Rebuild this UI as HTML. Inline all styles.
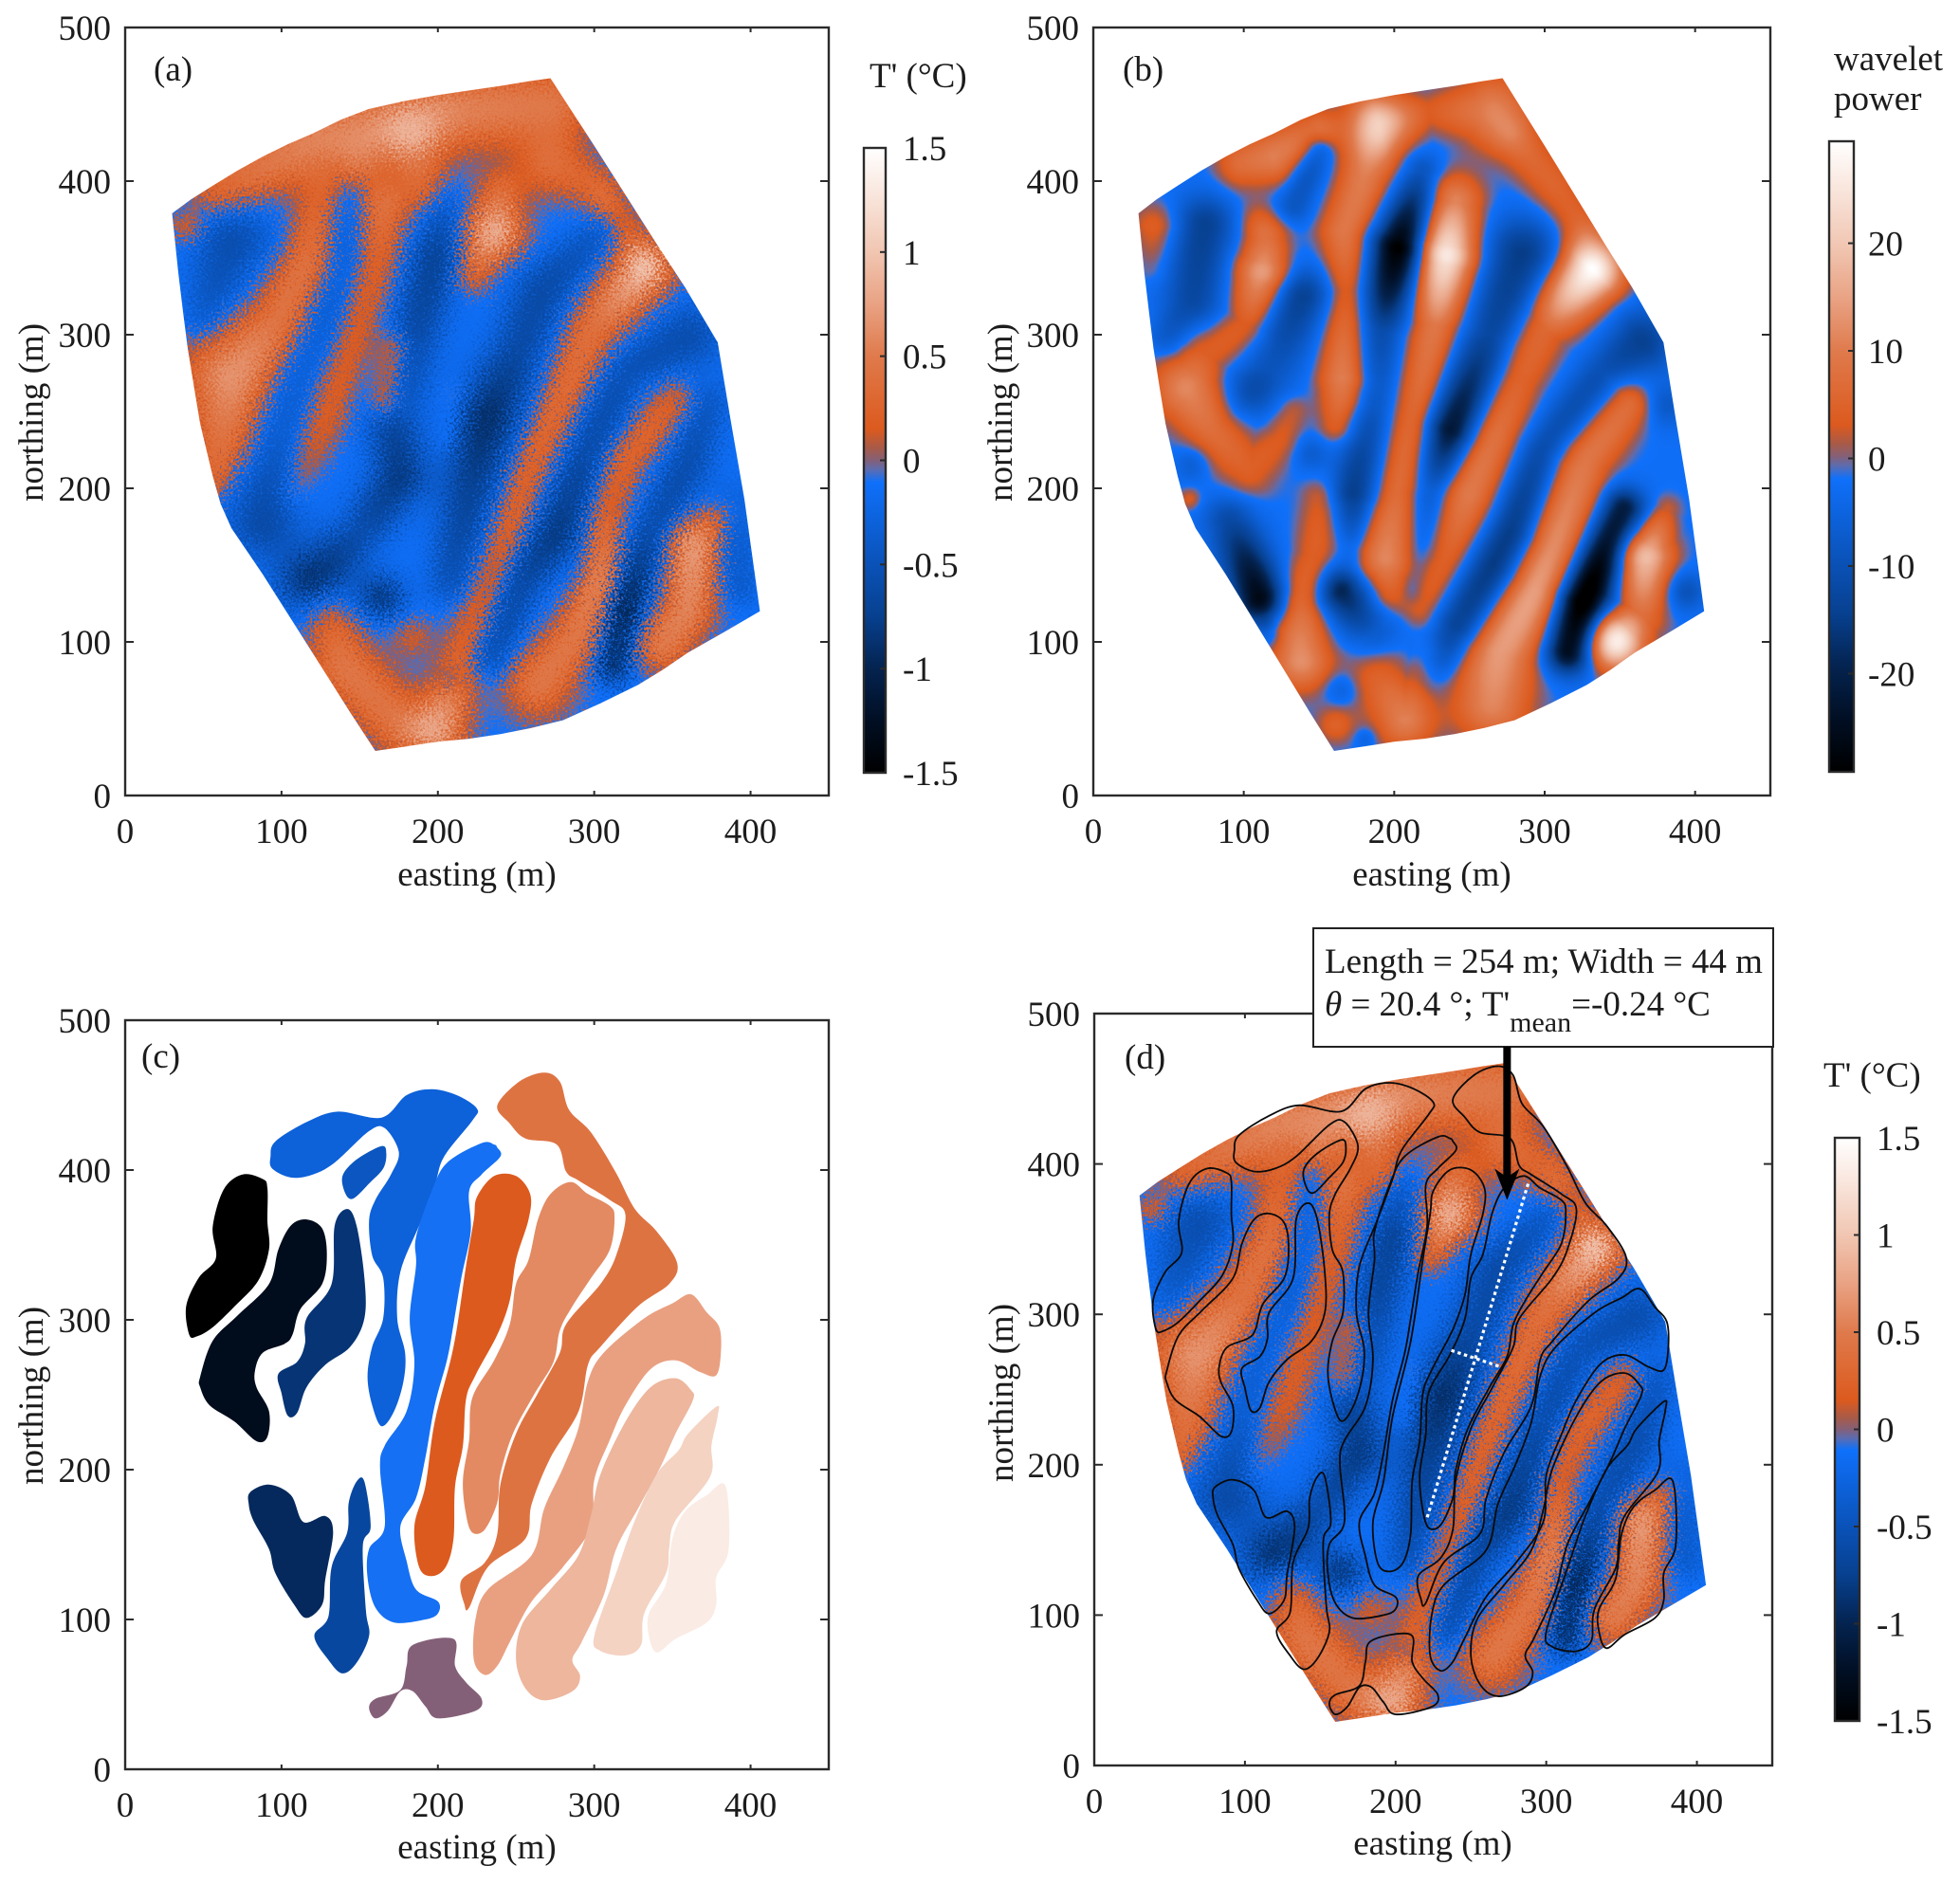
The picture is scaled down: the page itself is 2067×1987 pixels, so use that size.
<!DOCTYPE html>
<html lang="en">
<head>
<meta charset="utf-8">
<title>Thermal streak maps</title>
<style>
html,body{margin:0;padding:0;background:#fff}
#figure{position:relative;width:2067px;height:1987px;background:#fff;overflow:hidden;font-family:"Liberation Serif",serif}
.map-wrap{position:absolute;overflow:hidden}
.map-wrap canvas{display:block;width:100%;height:100%}
.speckled canvas{filter:url(#speckle)}
#overlay{position:absolute;left:0;top:0}
#overlay text{font-family:"Liberation Serif",serif;font-size:37px;fill:#1c1c1c}
</style>
</head>
<body>
<div id="figure">
  <svg width="0" height="0" style="position:absolute">
    <filter id="speckle" x="0" y="0" width="1" height="1" color-interpolation-filters="sRGB">
      <feTurbulence type="fractalNoise" baseFrequency="0.42" numOctaves="2" seed="7" result="n"/>
      <feDisplacementMap in="SourceGraphic" in2="n" scale="60" xChannelSelector="R" yChannelSelector="G"/>
    </filter>
  </svg>
  <div class="map-wrap speckled" id="wrap-a"><canvas id="canvas-a" width="450" height="500"></canvas></div>
  <div class="map-wrap" id="wrap-b"><canvas id="canvas-b" width="450" height="500"></canvas></div>
  <div class="map-wrap speckled" id="wrap-d"><canvas id="canvas-d" width="450" height="500"></canvas></div>
  <svg id="overlay" width="2067" height="1987" xmlns="http://www.w3.org/2000/svg">
    <defs id="defs"></defs>
    <g id="layer"></g>
    <text x="162" y="85">(a)</text>
    <text x="1184" y="85">(b)</text>
    <text x="149" y="1126">(c)</text>
    <text x="1186" y="1127">(d)</text>

    <text x="503" y="934" text-anchor="middle">easting (m)</text>
    <text x="1510" y="934" text-anchor="middle">easting (m)</text>
    <text x="503" y="1960" text-anchor="middle">easting (m)</text>
    <text x="1511" y="1956" text-anchor="middle">easting (m)</text>
    <text transform="translate(45,435) rotate(-90)" text-anchor="middle">northing (m)</text>
    <text transform="translate(1067,435) rotate(-90)" text-anchor="middle">northing (m)</text>
    <text transform="translate(45,1472) rotate(-90)" text-anchor="middle">northing (m)</text>
    <text transform="translate(1068,1469) rotate(-90)" text-anchor="middle">northing (m)</text>

    <text x="917" y="92">T' (°C)</text>
    <text x="1934" y="74">wavelet</text>
    <text x="1934" y="116">power</text>
    <text x="1923" y="1146">T' (°C)</text>

    <g id="annotation">
      <rect x="1385" y="979" width="485" height="125" fill="#fff" stroke="#222" stroke-width="2"/>
      <text x="1397" y="1026">Length = 254 m; Width = 44 m</text>
      <text x="1397" y="1071"><tspan font-style="italic">θ</tspan> = 20.4 °; T'<tspan dy="17" style="font-size:30px">mean</tspan><tspan dy="-17">=-0.24 °C</tspan></text>
    </g>
  </svg>
</div>
<script>
/* ---------- chart data (metres / degC / wavelet power) ---------- */
const eastingTicks = [0, 100, 200, 300, 400];
const northingTicks = [0, 100, 200, 300, 400, 500];
const temperatureBarTicks = [1.5, 1, 0.5, 0, -0.5, -1, -1.5];
const waveletBarTicks = [20, 10, 0, -10, -20];
const temperatureLimit = 1.5;
const waveletLimit = 29.3;
const temperatureBackground = -0.12;
const waveletBackground = -2.5;

/* survey footprint: [easting, northing] */
const siteBoundary = [[30,379],[42,388],[56,397],[72,407],[88,416],[104,424],[120,431],[138,440],[156,447],[178,452],[200,456],[220,459],[240,462],[258,465],[272,467],[300,423],[340,359],[358,331],[379,295],[387,246],[396,193],[406,120],[384,107],[360,93],[344,82],[328,72],[304,60],[280,49],[260,44],[240,40],[220,37],[200,35],[180,32],[160,29],[144,54],[116,99],[88,144],[68,174],[61,190],[56,208],[52,225],[48,242],[44,266],[40,291],[37,315],[34,340]];

/* wavelet field features: polylines of [easting, northing, width, power] */
const waveletRidges = [
 [[41,370,11,7],[40,345,8,3]],
 [[99,412,12,10],[120,416,13,13],[149,432,10,11]],
 [[190,437,16,15],[223,445,10,6],[265,446,17,13]],
 [[190,437,12,9],[178,397,12,12],[167,367,12,12],[169,329,10,8],[167,272,12,14],[163,242,9,8]],
 [[281,427,11,8],[306,397,12,8],[325,370,10,7]],
 [[115,363,11,10],[113,340,13,18],[103,306,11,8],[74,288,13,7],[62,265,16,14],[78,239,13,10],[103,212,13,7],[124,231,10,6],[132,250,8,5]],
 [[108,377,9,3]],
 [[240,386,13,14],[233,352,14,30],[227,306,12,12],[215,254,11,10],[202,197,11,10],[194,155,14,14],[196,133,10,8]],
 [[331,342,14,32],[298,306,13,10],[281,272,13,9],[265,235,13,12],[248,197,14,13],[236,159,12,8],[219,121,9,6]],
 [[356,254,11,10],[327,220,13,12],[314,186,14,14],[294,133,15,18],[269,95,18,17],[265,61,18,14]],
 [[381,186,7,5],[366,155,13,22],[364,118,12,10],[347,101,13,30]],
 [[151,193,9,6],[147,155,10,7],[136,125,12,11],[138,88,14,15]],
 [[190,76,15,8],[207,50,14,13],[223,91,8,4]],
 [[161,46,9,7]],
 [[64,193,5,6]]
];
const waveletTroughs = [
 [[74,371,14,-12],[66,322,14,-10],[49,298,9,-6]],
 [[149,420,8,-9],[133,384,9,-7]],
 [[137,325,14,-13],[116,276,15,-6]],
 [[219,405,9,-8],[204,356,13,-30],[190,303,12,-10],[186,254,11,-7],[173,197,11,-13],[173,159,7,-4]],
 [[285,352,17,-13],[265,299,14,-11],[238,238,12,-22],[225,197,10,-8],[218,159,8,-5],[212,132,5,-3]],
 [[364,295,15,-12],[339,276,11,-8],[298,223,11,-10],[279,171,12,-15],[244,110,12,-15],[223,76,9,-5]],
 [[352,186,10,-20],[325,125,12,-32],[316,95,11,-25]],
 [[393,133,9,-8]],
 [[380,254,10,-6]],
 [[91,178,12,-10],[111,129,12,-25],[116,106,7,-6]],
 [[165,133,11,-18],[186,106,13,-6]],
 [[165,69,8,-5]],
 [[66,216,8,-5]],
 [[144,223,8,-5]],
 [[103,261,11,-6]],
 [[181,37,5,-4]]
];

/* temperature anomaly features: polylines of [easting, northing, width, degC] */
const thermalFeatures = [
 [[60,395,12,0.5],[120,426,16,0.7],[200,445,18,0.7],[272,450,18,0.6]],
 [[150,410,10,0.3]],
 [[184,425,14,0.45],[190,397,10,0.4]],
 [[240,392,10,0.5],[236,367,12,1.0],[222,340,8,0.45]],
 [[272,410,14,0.45],[300,398,9,0.4]],
 [[310,385,8,0.4],[332,350,8,0.2]],
 [[125,395,9,0.3],[120,348,12,0.75],[100,306,15,0.65],[68,272,20,0.8],[62,231,14,0.55],[56,204,7,0.45]],
 [[165,385,11,0.55],[160,348,10,0.45],[144,291,9,0.35],[128,246,9,0.35],[108,197,6,0.2]],
 [[172,291,7,0.55],[166,257,7,0.65]],
 [[210,262,5,0.2],[205,230,4,0.2]],
 [[332,342,12,1.0],[300,306,12,0.55],[280,261,9,0.5],[256,205,8,0.45],[236,144,8,0.45],[216,91,9,0.5],[200,42,12,0.8]],
 [[352,257,9,0.4],[320,220,9,0.45],[308,190,8,0.4],[304,140,7,0.75],[288,103,11,0.6],[264,72,14,0.6]],
 [[384,186,7,0.3],[364,163,11,0.85],[360,121,11,0.7],[344,99,12,0.65]],
 [[128,122,10,0.4],[140,84,14,0.6],[176,46,14,0.55]],
 [[184,103,8,0.3]],
 [[40,370,7,0.4]],
 [[68,361,18,-0.45],[50,310,9,-0.3]],
 [[146,392,7,-0.2],[136,348,13,-0.45],[125,314,13,-0.45],[108,276,12,-0.35],[96,231,12,-0.3],[88,178,16,-0.5]],
 [[205,385,8,-0.3],[198,350,12,-0.6],[185,300,12,-0.5],[170,250,12,-0.5],[176,208,12,-0.7],[150,170,11,-0.45],[120,140,15,-0.8]],
 [[164,129,10,-0.7]],
 [[304,367,8,-0.3],[268,329,14,-0.5],[252,291,13,-0.5],[232,246,15,-0.8],[220,197,13,-0.6],[208,140,10,-0.4]],
 [[360,299,15,-0.45],[320,276,11,-0.4],[296,223,11,-0.5],[276,171,12,-0.7],[252,140,11,-0.55],[232,91,10,-0.5]],
 [[372,255,10,-0.35],[360,216,11,-0.45],[336,171,9,-0.5],[320,121,9,-0.9],[312,84,8,-0.8]],
 [[388,190,9,-0.3],[393,135,8,-0.3]],
 [[208,76,5,-0.5]]
];

/* streak outlines: [easting, northing] */
const streakOutlines = [
 [[41,290],[39,309],[47,328],[58,341],[56,362],[63,387],[75,397],[88,394],[91,388],[91,366],[92,347],[85,326],[70,309],[56,295],[46,289]],
 [[48,262],[56,286],[72,303],[92,324],[98,347],[106,363],[116,367],[126,361],[129,344],[126,324],[112,307],[107,290],[102,284],[88,278],[83,266],[84,255],[92,239],[91,222],[84,219],[70,232],[54,243],[48,255]],
 [[98,264],[110,272],[115,284],[116,301],[132,324],[134,363],[142,374],[148,363],[153,328],[153,301],[144,282],[128,270],[116,255],[110,238],[104,236],[100,251]],
 [[139,396],[148,407],[164,416],[167,411],[165,401],[156,391],[146,381],[141,384]],
 [[93,409],[96,419],[116,432],[136,439],[164,435],[180,450],[196,454],[212,450],[225,441],[222,433],[204,409],[198,390],[188,363],[176,332],[174,301],[179,278],[178,259],[172,239],[164,229],[158,243],[155,262],[158,282],[165,301],[165,328],[158,343],[156,366],[160,380],[170,397],[175,412],[166,428],[156,426],[134,405],[120,397],[106,395],[94,401]],
 [[238,415],[240,409],[228,397],[220,386],[221,359],[215,328],[210,297],[206,274],[198,243],[192,208],[186,181],[176,162],[180,139],[186,120],[200,112],[200,104],[192,100],[172,98],[160,108],[155,128],[156,147],[166,162],[163,201],[166,216],[180,239],[185,270],[182,301],[186,336],[186,355],[196,386],[206,405],[228,418],[236,417]],
 [[225,382],[236,396],[250,396],[259,384],[258,367],[250,340],[246,313],[238,290],[224,263],[218,247],[216,216],[211,189],[210,154],[205,135],[196,129],[188,135],[185,162],[192,189],[198,232],[210,282],[218,336],[223,367]],
 [[264,367],[272,384],[285,392],[296,384],[310,376],[313,368],[310,347],[298,328],[286,309],[278,293],[274,272],[262,251],[248,224],[240,197],[238,178],[230,160],[222,158],[218,170],[216,193],[220,220],[222,248],[236,273],[246,297],[250,324],[258,340]],
 [[238,443],[252,459],[268,465],[278,459],[284,440],[298,425],[314,398],[326,374],[340,359],[353,338],[348,324],[328,309],[304,282],[296,270],[290,239],[272,208],[260,177],[256,154],[232,135],[220,108],[217,110],[215,126],[230,138],[238,157],[240,190],[250,224],[264,251],[278,278],[282,297],[304,324],[314,343],[320,370],[310,380],[290,393],[282,399],[276,417],[256,421],[246,431]],
 [[362,317],[372,305],[380,295],[381,278],[378,263],[368,265],[352,273],[336,267],[320,243],[310,220],[300,193],[298,162],[280,135],[260,112],[246,85],[238,69],[230,63],[223,73],[224,100],[232,120],[260,143],[268,174],[280,201],[290,228],[296,259],[306,278],[332,301],[350,311]],
 [[352,261],[362,253],[363,246],[352,224],[342,201],[328,174],[314,147],[306,116],[292,85],[286,73],[291,62],[286,52],[268,46],[256,54],[250,73],[254,97],[272,120],[290,143],[298,170],[304,197],[320,232],[336,255]],
 [[378,242],[360,224],[354,213],[340,197],[326,166],[314,131],[300,89],[304,79],[320,76],[330,83],[332,104],[346,131],[348,148],[352,166],[374,195],[375,216],[379,236]],
 [[384,189],[386,147],[378,128],[378,110],[372,98],[352,87],[340,78],[335,89],[335,104],[346,124],[350,154],[358,172],[372,183]],
 [[80,185],[92,190],[106,183],[114,165],[128,169],[133,158],[128,127],[126,110],[116,101],[108,110],[96,131],[92,147],[82,166],[79,177]],
 [[148,192],[153,192],[157,162],[152,149],[154,106],[156,89],[148,71],[139,64],[130,73],[121,89],[130,102],[132,135],[142,158],[143,178]],
 [[184,83],[210,87],[211,69],[218,58],[228,47],[224,39],[200,34],[192,42],[184,52],[176,52],[168,39],[160,34],[156,41],[160,47],[176,53],[180,69]]
];
/* mean T' of each streak, degC */
const streakMeans = [-1.5,-1.3,-0.85,-0.45,-0.3,-0.1,0.15,0.6,0.42,0.74,0.89,1.11,1.32,-0.95,-0.65,0];

/* measured streak axes: [easting, northing] */
const streakLengthAxis = [[221,165],[288,387]];
const streakWidthAxis = [[237,276],[270,265]];
const arrowEnds = [[274,478],[274,376]];

/* ---------- colour scale ---------- */
const cmapPositions = [-1,-0.83,-0.667,-0.5,-0.333,-0.07,-0.03,0,0.04,0.1,0.333,0.5,0.667,0.85,1];
const cmapColors = [[0,0,0],[1,15,36],[4,35,79],[7,64,143],[10,82,184],[15,112,250],[92,108,176],[132,96,120],[168,90,72],[220,90,30],[223,122,76],[233,162,131],[241,198,178],[249,230,221],[255,255,255]];
function cmap(t){
  if(t<=cmapPositions[0]) return cmapColors[0];
  for(let i=1;i<cmapPositions.length;i++){
    if(t<=cmapPositions[i]){
      const f=(t-cmapPositions[i-1])/(cmapPositions[i]-cmapPositions[i-1]);
      const a=cmapColors[i-1], b=cmapColors[i];
      return [a[0]+(b[0]-a[0])*f,a[1]+(b[1]-a[1])*f,a[2]+(b[2]-a[2])*f];
    }
  }
  return cmapColors[cmapColors.length-1];
}
function rgb(c){return 'rgb('+Math.round(c[0])+','+Math.round(c[1])+','+Math.round(c[2])+')';}

/* ---------- axes ---------- */
const NS='http://www.w3.org/2000/svg';
const layer=document.getElementById('layer');
const defs=document.getElementById('defs');
const AXIS='#2b2b2b';
const xMax=450,yMax=500;
const boxes={
  a:{L:132,R:874,T:29,B:839},
  b:{L:1153,R:1867,T:29,B:839},
  c:{L:132,R:874,T:1076,B:1866},
  d:{L:1154,R:1869,T:1069,B:1862}
};
function xScale(box,v){return box.L+v/xMax*(box.R-box.L);}
function yScale(box,v){return box.B-v/yMax*(box.B-box.T);}
function svgEl(tag,parent){const e=document.createElementNS(NS,tag);(parent||layer).appendChild(e);return e;}
function setLine(l,x1,y1,x2,y2,w){
  l.setAttribute('x1',x1);l.setAttribute('y1',y1);l.setAttribute('x2',x2);l.setAttribute('y2',y2);
  l.setAttribute('stroke',AXIS);l.setAttribute('stroke-width',w);
}
function drawAxes(key,box){
  const g=svgEl('g');
  
  
  const frame=svgEl('rect',g);
  
  
  frame.setAttribute('x',box.L);frame.setAttribute('y',box.T);
  frame.setAttribute('width',box.R-box.L);frame.setAttribute('height',box.B-box.T);
  frame.setAttribute('fill','none');frame.setAttribute('stroke',AXIS);frame.setAttribute('stroke-width','2.4');
  eastingTicks.forEach(v=>{
    const x=xScale(box,v);
    const b=svgEl('line',g);
    
    
    setLine(b,x,box.B,x,box.B-5,2);
    const t=svgEl('line',g);
    
    
    setLine(t,x,box.T,x,box.T+5,2);
    const lab=svgEl('text',g);
    
    
    lab.setAttribute('x',x);lab.setAttribute('y',box.B+50);lab.setAttribute('text-anchor','middle');
    lab.textContent=String(v);
  });
  northingTicks.forEach(v=>{
    const y=yScale(box,v);
    const l=svgEl('line',g);
    
    
    setLine(l,box.L,y,box.L+9,y,2);
    const r=svgEl('line',g);
    
    
    setLine(r,box.R,y,box.R-9,y,2);
    const lab=svgEl('text',g);
    
    
    lab.setAttribute('x',box.L-15);lab.setAttribute('y',y+13);lab.setAttribute('text-anchor','end');
    lab.textContent=String(v);
  });
}
function drawColorbar(key,bar,limit,ticks){
  const grad=svgEl('linearGradient',defs);
  grad.id='grad-'+key;
  grad.setAttribute('x1','0');grad.setAttribute('y1','0');grad.setAttribute('x2','0');grad.setAttribute('y2','1');
  for(let i=cmapPositions.length-1;i>=0;i--){
    const s=svgEl('stop',grad);
    s.setAttribute('offset',(1-cmapPositions[i])/2);
    s.setAttribute('stop-color',rgb(cmapColors[i]));
  }
  const g=svgEl('g');
  
  
  const r=svgEl('rect',g);
  
  
  r.setAttribute('x',bar.x0);r.setAttribute('y',bar.y0);
  r.setAttribute('width',bar.x1-bar.x0);r.setAttribute('height',bar.y1-bar.y0);
  r.setAttribute('fill','url(#grad-'+key+')');r.setAttribute('stroke',AXIS);r.setAttribute('stroke-width','2.4');
  ticks.forEach(v=>{
    const y=bar.y0+(limit-v)/(2*limit)*(bar.y1-bar.y0)+(bar.dy||0);
    const t=svgEl('line',g);
    
    
    setLine(t,bar.x1,y,bar.x1-6,y,2);
    const lab=svgEl('text',g);
    
    
    lab.setAttribute('x',bar.x1+(bar.gap||18));lab.setAttribute('y',y+13);
    lab.textContent=String(v);
  });
}

/* ---------- field rendering ---------- */
function fieldValue(features,background,x,y){
  let sum=background;
  for(let f=0;f<features.length;f++){
    const line=features[f];
    let best=0;
    for(let s=0;s<line.length;s++){
      const a=line[s], b=line[Math.min(s+1,line.length-1)];
      const dx=b[0]-a[0], dy=b[1]-a[1], len=dx*dx+dy*dy;
      let t=len>0?((x-a[0])*dx+(y-a[1])*dy)/len:0;
      t=t<0?0:t>1?1:t;
      const px=a[0]+dx*t-x, py=a[1]+dy*t-y;
      const sig=a[2]+(b[2]-a[2])*t, amp=a[3]+(b[3]-a[3])*t;
      const g=amp*Math.exp(-(px*px+py*py)/(2*sig*sig));
      if(Math.abs(g)>Math.abs(best)) best=g;
    }
    sum+=best;
  }
  return sum;
}
function renderField(features,background,limit){
  const W=xMax,H=yMax;
  const img=new ImageData(W,H);
  for(let j=0;j<H;j++){
    const y=yMax-j-0.5;
    for(let i=0;i<W;i++){
      const k=(j*W+i)*4;
      img.data[k+3]=255;
      const v=fieldValue(features,background,i+0.5,y);
      const c=cmap(v/limit);
      img.data[k]=c[0];img.data[k+1]=c[1];img.data[k+2]=c[2];
    }
  }
  return img;
}
function placeMap(key,box,img){
  const wrap=document.getElementById('wrap-'+key);
  wrap.style.left=box.L+'px';wrap.style.top=box.T+'px';
  wrap.style.width=(box.R-box.L)+'px';wrap.style.height=(box.B-box.T)+'px';
  wrap.style.clipPath='polygon('+siteBoundary.map(p=>(xScale(box,p[0])-box.L).toFixed(1)+'px '+(yScale(box,p[1])-box.T).toFixed(1)+'px').join(',')+')';
  document.getElementById('canvas-'+key).getContext('2d').putImageData(img,0,0);
}
function smoothPath(box,pts){
  const P=pts.map(p=>[xScale(box,p[0]),yScale(box,p[1])]);
  const n=P.length;
  let d='M'+P[0][0].toFixed(1)+' '+P[0][1].toFixed(1);
  for(let i=0;i<n;i++){
    const p0=P[(i-1+n)%n],p1=P[i],p2=P[(i+1)%n],p3=P[(i+2)%n];
    const c1x=p1[0]+(p2[0]-p0[0])/6,c1y=p1[1]+(p2[1]-p0[1])/6;
    const c2x=p2[0]-(p3[0]-p1[0])/6,c2y=p2[1]-(p3[1]-p1[1])/6;
    d+='C'+c1x.toFixed(1)+' '+c1y.toFixed(1)+' '+c2x.toFixed(1)+' '+c2y.toFixed(1)+' '+p2[0].toFixed(1)+' '+p2[1].toFixed(1);
  }
  return d+'Z';
}

/* ---------- draw ---------- */
const thermalImage=renderField(thermalFeatures,temperatureBackground,temperatureLimit);
const waveletImage=renderField(waveletRidges.concat(waveletTroughs),waveletBackground,waveletLimit);
placeMap('a',boxes.a,thermalImage);
placeMap('b',boxes.b,waveletImage);
placeMap('d',boxes.d,thermalImage);

streakOutlines.forEach((pts,i)=>{
  const p=svgEl('path');
  
  
  p.setAttribute('d',smoothPath(boxes.c,pts));
  p.setAttribute('fill',rgb(cmap(streakMeans[i]/temperatureLimit)));
});
streakOutlines.forEach(pts=>{
  const p=svgEl('path');
  
  
  p.setAttribute('d',smoothPath(boxes.d,pts));
  p.setAttribute('fill','none');
  p.setAttribute('stroke','#0a0a0a');
  p.setAttribute('stroke-width','1.8');
});
[streakLengthAxis,streakWidthAxis].forEach(seg=>{
  const l=svgEl('line');
  
  
  l.setAttribute('x1',xScale(boxes.d,seg[0][0]));l.setAttribute('y1',yScale(boxes.d,seg[0][1]));
  l.setAttribute('x2',xScale(boxes.d,seg[1][0]));l.setAttribute('y2',yScale(boxes.d,seg[1][1]));
  l.setAttribute('stroke','#fff');l.setAttribute('stroke-width','3.2');l.setAttribute('stroke-dasharray','3.5 3.5');
});
Object.keys(boxes).forEach(k=>drawAxes(k,boxes[k]));
drawColorbar('a',{x0:911,x1:934,y0:156,y1:815},temperatureLimit,temperatureBarTicks);
drawColorbar('b',{x0:1929,x1:1955,y0:149,y1:814,dy:2,gap:15},waveletLimit,waveletBarTicks);
drawColorbar('d',{x0:1935,x1:1961,y0:1200,y1:1815},temperatureLimit,temperatureBarTicks);

const ax=xScale(boxes.d,arrowEnds[0][0]);
const ay0=yScale(boxes.d,arrowEnds[0][1]);
const ay1=yScale(boxes.d,arrowEnds[1][1]);
const shaft=svgEl('line');


shaft.setAttribute('x1',ax);shaft.setAttribute('y1',ay0);shaft.setAttribute('x2',ax);shaft.setAttribute('y2',ay1-20);
shaft.setAttribute('stroke','#000');shaft.setAttribute('stroke-width','8');
const head=svgEl('polygon');


head.setAttribute('points',(ax-13)+','+(ay1-33)+' '+ax+','+(ay1-24)+' '+(ax+13)+','+(ay1-33)+' '+ax+','+ay1);
head.setAttribute('fill','#000');
document.getElementById('overlay').appendChild(document.getElementById('annotation'));
document.getElementById('overlay').appendChild(shaft);
document.getElementById('overlay').appendChild(head);
</script>
</body>
</html>
